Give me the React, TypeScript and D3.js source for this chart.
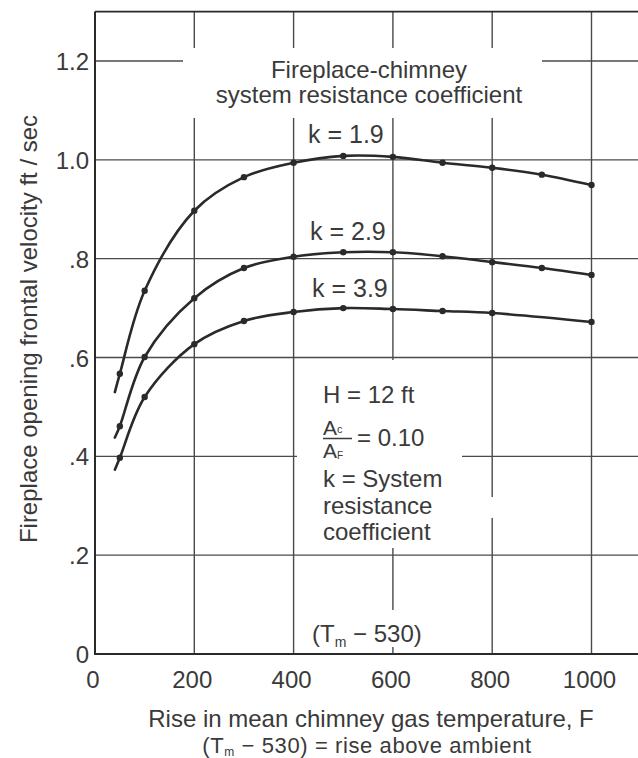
import React from "react";
import * as d3 from "d3";

// ---- data ----
const dotTemps = [50, 100, 200, 300, 400, 500, 600, 700, 800, 900, 1000];
const velK19 = [0.567, 0.735, 0.897, 0.965, 0.994, 1.008, 1.006, 0.994, 0.984, 0.97, 0.949];
const velK29 = [0.461, 0.601, 0.72, 0.781, 0.804, 0.813, 0.813, 0.805, 0.793, 0.781, 0.767];
const dotTemps39 = [50, 100, 200, 300, 400, 500, 600, 700, 800, 1000];
const velK39 = [0.397, 0.52, 0.627, 0.674, 0.692, 0.7, 0.698, 0.694, 0.69, 0.672];
// where each curve begins (just left of the first plotted point)
const startTemp = 40;
const startVel = [0.53, 0.438, 0.373];
const kLabels = ["k = 1.9", "k = 2.9", "k = 3.9"];

const xTicks = [0, 200, 400, 600, 800, 1000];
const xTickLabels = ["0", "200", "400", "600", "800", "1000"];
const yTicks = [0, 0.2, 0.4, 0.6, 0.8, 1.0, 1.2];
const yTickLabels = ["0", ".2", ".4", ".6", ".8", "1.0", "1.2"];

// ---- layout ----
const W = 638;
const H = 758;
const FONT = "'Liberation Sans', Arial, Helvetica, sans-serif";
const INK = "#2a2a2a";
const TEXT = "#3a3a3a";
const GRID = "#4a4a4a";

const x = d3.scaleLinear().domain([0, 1000]).range([95, 591.5]);
const y = d3.scaleLinear().domain([0, 1.2]).range([654, 61]);
const xMaxDraw = 1100;
const yTop = 1.3;

export default function App() {
  const series = [
    { temps: dotTemps, vels: velK19, start: startVel[0], label: kLabels[0], lx: 308, ly: 143 },
    { temps: dotTemps, vels: velK29, start: startVel[1], label: kLabels[1], lx: 310, ly: 240 },
    { temps: dotTemps39, vels: velK39, start: startVel[2], label: kLabels[2], lx: 312, ly: 297 },
  ];

  const line = d3
    .line<[number, number]>()
    .x((d) => x(d[0]))
    .y((d) => y(d[1]))
    .curve(d3.curveCatmullRom.alpha(0.5));

  const knockouts = [
    { x0: 183, x1: 542, y0: 48, y1: 118 },
    { x0: 297, x1: 462, y0: 360, y1: 548 },
    { x0: 487, x1: 498, y0: 497, y1: 518 },
    { x0: 300, x1: 440, y0: 610, y1: 647 },
  ];

  return (
    <svg
      width={W}
      height={H}
      viewBox={`0 0 ${W} ${H}`}
      style={{ position: "absolute", left: 0, top: 0, background: "#fff" }}
      fontFamily={FONT}
    >
      <rect x={0} y={0} width={W} height={H} fill="#fff" />
      {/* grid */}
      <g stroke={GRID} strokeWidth={1.4}>
        {xTicks
          .filter((t) => t > 0)
          .map((t) => (
            <line key={"vx" + t} x1={x(t)} x2={x(t)} y1={y(0)} y2={y(yTop)} />
          ))}
        {yTicks
          .filter((t) => t > 0)
          .map((t) => (
            <line key={"hy" + t} x1={x(0)} x2={x(xMaxDraw)} y1={y(t)} y2={y(t)} />
          ))}
      </g>
      {/* gaps in the grid around text */}
      {knockouts.map((k, i) => (
        <rect key={"ko" + i} x={k.x0} y={k.y0} width={k.x1 - k.x0} height={k.y1 - k.y0} fill="#fff" />
      ))}
      {/* frame */}
      <g stroke={INK}>
        <line x1={x(0)} x2={x(0)} y1={y(0) + 1} y2={y(yTop)} strokeWidth={2} />
        <line x1={x(0) - 1} x2={x(xMaxDraw)} y1={y(0)} y2={y(0)} strokeWidth={2.2} />
        <line x1={x(0)} x2={x(xMaxDraw)} y1={y(yTop)} y2={y(yTop)} strokeWidth={1.6} />
      </g>
      {/* curves */}
      {series.map((s, i) => {
        const pts: [number, number][] = [[startTemp, s.start], ...s.temps.map((t, j) => [t, s.vels[j]] as [number, number])];
        return (
          <g key={"s" + i}>
            <path d={line(pts) || ""} fill="none" stroke={INK} strokeWidth={2.6} strokeLinecap="round" />
            {s.temps.map((t, j) => (
              <circle key={j} cx={x(t)} cy={y(s.vels[j])} r={3.2} fill={INK} />
            ))}
            <text x={s.lx} y={s.ly} fontSize={25} fill={TEXT}>
              {s.label}
            </text>
          </g>
        );
      })}
      {/* tick labels */}
      <g fontSize={24} fill={TEXT}>
        {xTicks.map((t, i) => (
          <text key={"xt" + t} x={x(t) - 2} y={688} textAnchor="middle">
            {xTickLabels[i]}
          </text>
        ))}
        {yTicks.map((t, i) => (
          <text key={"yt" + t} x={89} y={y(t) + 9} textAnchor="end">
            {yTickLabels[i]}
          </text>
        ))}
      </g>
      {/* title in plot */}
      <g fontSize={24} fill={TEXT} textAnchor="middle">
        <text x={369} y={78}>Fireplace-chimney</text>
        <text x={369} y={103}>system resistance coefficient</text>
      </g>
      {/* parameter box */}
      <g fontSize={24} fill={TEXT}>
        <text x={323} y={403}>H = 12 ft</text>
        <text x={323} y={435} fontSize={21}>
          A<tspan fontSize={11} dy={-2}>c</tspan>
        </text>
        <line x1={323} x2={352} y1={438.5} y2={438.5} stroke={TEXT} strokeWidth={1.5} />
        <text x={323} y={458} fontSize={21}>
          A<tspan fontSize={10} dy={1}>F</tspan>
        </text>
        <text x={357} y={446}>= 0.10</text>
        <text x={323} y={487}>k = System</text>
        <text x={323} y={514}>resistance</text>
        <text x={323} y={540}>coefficient</text>
        <text x={312} y={642}>
          (T<tspan fontSize={14} dy={5}>m</tspan>
          <tspan dy={-5}> − 530)</tspan>
        </text>
      </g>
      {/* axis titles */}
      <g fill={TEXT} textAnchor="middle">
        <text x={371} y={727} fontSize={24}>Rise in mean chimney gas temperature, F</text>
        <text x={367} y={753} fontSize={22} letterSpacing={0.6}>
          (T<tspan fontSize={12} dy={3}>m</tspan>
          <tspan dy={-3}> − 530) = rise above ambient</tspan>
        </text>
        <text fontSize={24} transform={`translate(37, 329) rotate(-90)`}>Fireplace opening frontal velocity ft / sec</text>
      </g>
    </svg>
  );
}
